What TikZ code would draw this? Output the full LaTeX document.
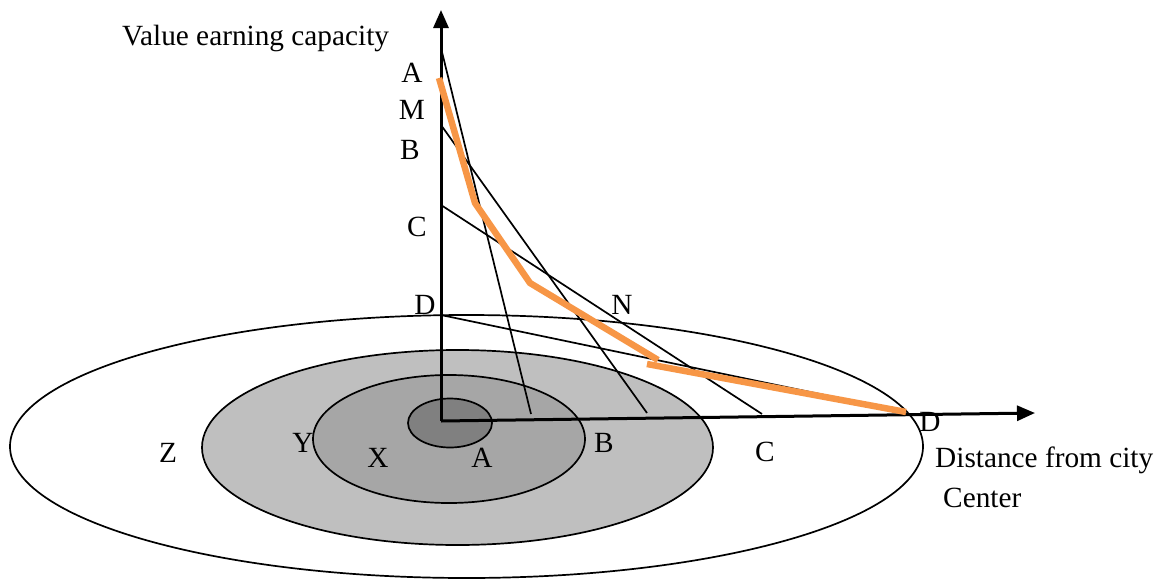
\documentclass[tikz,border=0pt]{standalone}
\usepackage{fontspec}
\setmainfont{Liberation Serif}
\usetikzlibrary{arrows.meta}
\definecolor{ringA}{HTML}{808080}
\definecolor{ringB}{HTML}{A6A6A6}
\definecolor{ringC}{HTML}{BFBFBF}
\definecolor{curve}{HTML}{F79646}
\begin{document}
\begin{tikzpicture}[x=1pt,y=-1pt,
  lbl/.style={inner sep=0pt,font=\fontsize{29.3}{34}\selectfont},
  ring/.style={draw=black,line width=1.7pt},
  axis/.style={line width=3pt,-{Triangle[length=18pt,width=15pt]}},
  ray/.style={line width=1.7pt},
  hull/.style={curve,line width=6.5pt}]
\useasboundingbox (0,0) rectangle (1165,581);
% rings
\draw[ring,fill=white] (466.5,446.5) ellipse [x radius=456.5,y radius=131.5];
\draw[ring,fill=ringC] (457.5,447.5) ellipse [x radius=255.5,y radius=97.5];
\draw[ring,fill=ringB] (449,439) ellipse [x radius=136,y radius=64];
\draw[ring,fill=ringA] (450,423) ellipse [x radius=42,y radius=24.5];
% axis points
\coordinate (O) at (441,421);
\coordinate (ytop) at (441,10);
\coordinate (xend) at (1035,413);
\coordinate (ya) at (441,48);
\coordinate (yb) at (441,125);
\coordinate (yc) at (441,205);
\coordinate (yd) at (441,315);
\coordinate (xa) at (531,414);
\coordinate (xb) at (647,413);
\coordinate (xc) at (762,414);
\coordinate (xd) at (906,412);
% rays
\draw[ray] (ya) -- (xa);
\draw[ray] (yb) -- (xb);
\draw[ray] (yc) -- (xc);
\draw[ray] (yd) -- (xd);
% axes
\draw[axis] (O) -- (ytop);
\draw[axis] (O) -- (xend);
% envelope
\coordinate (e1) at (439,78);
\coordinate (e2) at (475,203);
\coordinate (e3) at (530,283);
\coordinate (e4) at (658,360);
\coordinate (e5) at (647,364);
\draw[hull] (e1) -- (e2) -- (e3) -- (e4);
\draw[hull] (e5) -- (xd);
% labels
\node[lbl,anchor=west] (vec) at (122,38) {Value earning capacity};
\node[lbl] (lA) at (412,73) {A};
\node[lbl] (lM) at (412,110) {M};
\node[lbl] (lB) at (410,150) {B};
\node[lbl] (lC) at (417,227) {C};
\node[lbl] (lD) at (425,305) {D};
\node[lbl] (lN) at (622,305) {N};
\node[lbl] (lZ) at (168,453) {Z};
\node[lbl] (lY) at (303,443) {Y};
\node[lbl] (lX) at (378,458) {X};
\node[lbl] (bA) at (482,458) {A};
\node[lbl] (bB) at (604,443) {B};
\node[lbl] (bC) at (765,452) {C};
\node[lbl] (bD) at (930,422) {D};
\node[lbl,anchor=west] (dist) at (935,460) {Distance from city};
\node[lbl,anchor=west] (cen) at (943,498) {Center};
\end{tikzpicture}
\end{document}
